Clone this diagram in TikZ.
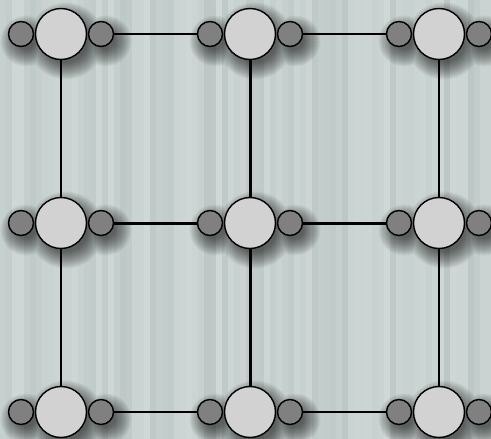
\documentclass[tikz,border=0pt]{standalone}
\definecolor{bgA}{RGB}{189,200,198}
\definecolor{bgB}{RGB}{207,216,214}
\definecolor{bigfill}{RGB}{210,210,210}
\definecolor{smallfill}{RGB}{128,128,128}
\begin{document}
\begin{tikzpicture}[x=1pt,y=-1pt,
  big/.style={circle,draw=black,line width=1.4pt,fill=bigfill,minimum size=51pt,inner sep=0pt},
  small/.style={circle,draw=black,line width=1.4pt,fill=smallfill,minimum size=25pt,inner sep=0pt},
  shadowlayer/.style={fill=black,fill opacity=0.04},
  thinedge/.style={line width=1.6pt},
  boldedge/.style={line width=3pt}]
\useasboundingbox (0,0) rectangle (491,439);
\pgfmathsetseed{11}
\foreach \i in {0,...,81} {
  \pgfmathsetmacro\r{int(random(0,100))}
  \fill[bgA!\r!bgB] (\i*6,0) rectangle (\i*6+6.3,439);
}
% soft shadows of the node groups
\foreach \y in {34,223,412} {
  \foreach \x in {61,250,439} {
    \foreach \e in {-4,-3,...,13} {
      \pgfmathsetmacro\rb{25.5+\e}
      \pgfmathsetmacro\rs{12.5+\e}
      \fill[shadowlayer] (\x+5,\y+7) circle[radius=\rb pt]
        (\x-35,\y+7) circle[radius=\rs pt]
        (\x+45,\y+7) circle[radius=\rs pt];
    }
  }
}
% big circles
\foreach \r/\y in {0/34,1/223,2/412} {
  \foreach \c/\x in {0/61,1/250,2/439} {
    \node[big] (n-\r-\c) at (\x,\y) {};
  }
}
% small circles
\foreach \r/\y in {0/34,1/223,2/412} {
  \foreach \c/\x in {0/61,1/250,2/439} {
    \node[small] (l-\r-\c) at (\x-40,\y) {};
    \node[small] (rr-\r-\c) at (\x+40,\y) {};
  }
}
% horizontal edges
\draw[thinedge] (rr-0-0) -- (l-0-1);
\draw[thinedge] (rr-0-1) -- (l-0-2);
\draw[boldedge] (rr-1-0) -- (l-1-1);
\draw[boldedge] (rr-1-1) -- (l-1-2);
\draw[thinedge] (rr-2-0) -- (l-2-1);
\draw[thinedge] (rr-2-1) -- (l-2-2);
% vertical edges
\draw[thinedge] (n-0-0) -- (n-1-0);
\draw[thinedge] (n-1-0) -- (n-2-0);
\draw[boldedge] (n-0-1) -- (n-1-1);
\draw[boldedge] (n-1-1) -- (n-2-1);
\draw[thinedge] (n-0-2) -- (n-1-2);
\draw[thinedge] (n-1-2) -- (n-2-2);
\end{tikzpicture}
\end{document}
